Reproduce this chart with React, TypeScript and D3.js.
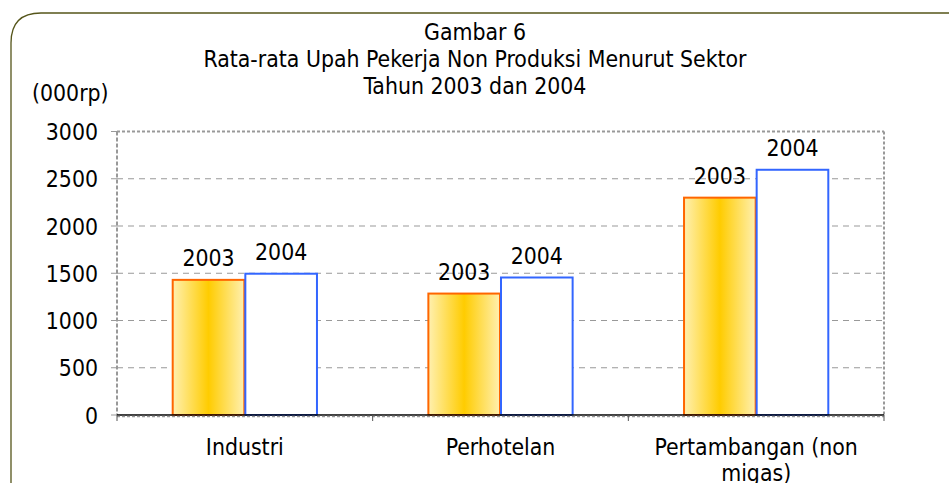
import * as d3 from "d3";

const CATEGORIES = ["Industri", "Perhotelan", "Pertambangan (non migas)"];
const SERIES = ["2003", "2004"];
const VALUES_2003 = [1430, 1285, 2300];
const VALUES_2004 = [1495, 1455, 2595];
const Y_TICKS = [0, 500, 1000, 1500, 2000, 2500, 3000];
const TITLE = ["Gambar 6", "Rata-rata Upah Pekerja Non Produksi Menurut Sektor", "Tahun 2003 dan 2004"];

const W = 949;
const H = 483;
const LEFT = 117;
const RIGHT = 884;
const TOP = 131.5;
const BOTTOM = 415;
const FONT = "'DejaVu Sans Condensed', 'DejaVu Sans', sans-serif";
const FS = 22.8;

export default function App() {
  const x = d3.scaleBand<string>().domain(CATEGORIES).range([LEFT, RIGHT]);
  const xs = d3.scaleBand<string>().domain(SERIES).range([0, x.bandwidth()]).paddingOuter(0.76).paddingInner(0);
  const y = d3.scaleLinear().domain([0, 3000]).range([BOTTOM, TOP]);

  const rows = CATEGORIES.map((c, i) => ({ c, v: [VALUES_2003[i], VALUES_2004[i]] }));

  const frame = `M ${W + 20} 13 L 41 13 Q 11 13 11 43 L 11 ${H + 20}`;

  return (
    <svg width={W} height={H} style={{ position: "absolute", left: 0, top: 0, background: "#fff", fontStretch: "condensed" }} fontFamily={FONT}>
      <defs>
        <linearGradient id="g03" x1="0" x2="1" y1="0" y2="0">
          <stop offset="0" stopColor="#fff0b0" />
          <stop offset="0.5" stopColor="#ffcc00" />
          <stop offset="1" stopColor="#fff0b0" />
        </linearGradient>
      </defs>
      <path d={frame} fill="none" stroke="#55551a" strokeWidth={1.3} />

      {TITLE.map((t, i) => (
        <text key={i} x={475} y={40 + i * 27} textAnchor="middle" fontSize={FS} fill="#000">{t}</text>
      ))}
      <text x={32} y={101} fontSize={FS} fill="#000">(000rp)</text>

      {/* grid */}
      {Y_TICKS.filter(t => t > 0 && t < 3000).map(t => (
        <line key={t} x1={LEFT} x2={RIGHT} y1={y(t)} y2={y(t)} stroke="#999" strokeDasharray="6,5" strokeWidth={1} />
      ))}
      <line x1={LEFT} x2={RIGHT} y1={TOP} y2={TOP} stroke="#999" strokeDasharray="3,2" strokeWidth={2} />
      <line x1={RIGHT} x2={RIGHT} y1={TOP} y2={BOTTOM} stroke="#999" strokeDasharray="3,2" strokeWidth={2} />
      <line x1={LEFT} x2={LEFT} y1={TOP} y2={BOTTOM} stroke="#999" strokeDasharray="4,2" strokeWidth={2} />

      {/* y ticks */}
      {Y_TICKS.map(t => (
        <g key={t}>
          <line x1={LEFT - 6} x2={LEFT} y1={y(t)} y2={y(t)} stroke="#999" />
          <text x={98} y={y(t) + 8.5} textAnchor="end" fontSize={FS} fill="#000">{t}</text>
        </g>
      ))}

      {/* bars */}
      {rows.map(r => (
        <g key={r.c} transform={`translate(${x(r.c)},0)`}>
          {SERIES.map((s, j) => (
            <g key={s}>
              <rect x={xs(s)! + 0.5} y={y(r.v[j])} width={xs.bandwidth() - 1} height={BOTTOM - y(r.v[j])}
                fill={j === 0 ? "url(#g03)" : "#fff"} stroke={j === 0 ? "#ff6600" : "#3366ff"} strokeWidth={2} />
              <text x={xs(s)! + xs.bandwidth() / 2} y={y(r.v[j]) - 13.5} textAnchor="middle" fontSize={FS} fill="#000">{s}</text>
            </g>
          ))}
        </g>
      ))}

      {/* x axis */}
      <line x1={LEFT} x2={RIGHT} y1={BOTTOM} y2={BOTTOM} stroke="#000" strokeWidth={1.5} />
      <line x1={LEFT} x2={RIGHT} y1={BOTTOM + 1.5} y2={BOTTOM + 1.5} stroke="#999" strokeDasharray="3,2" strokeWidth={1.5} />
      {[...CATEGORIES.map(c => x(c)!), RIGHT].map((px, i) => (
        <line key={i} x1={px} x2={px} y1={BOTTOM} y2={BOTTOM + 6} stroke="#555" />
      ))}
      {CATEGORIES.map((c, i) => {
        const cx = x(c)! + x.bandwidth() / 2;
        const lines = i === 2 ? ["Pertambangan (non", "migas)"] : [c];
        return (
          <text key={c} x={cx} y={455} textAnchor="middle" fontSize={FS} fill="#000">
            {lines.map((l, k) => <tspan key={k} x={cx} dy={k === 0 ? 0 : 26}>{l}</tspan>)}
          </text>
        );
      })}
    </svg>
  );
}
